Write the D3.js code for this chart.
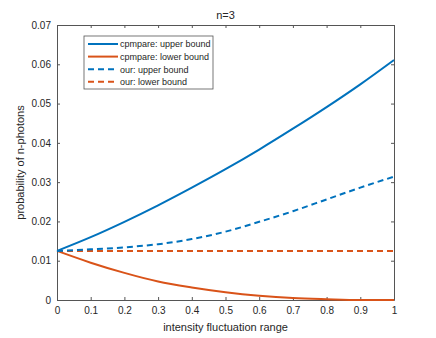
<!DOCTYPE html>
<html>
<head>
<meta charset="utf-8">
<script src="https://cdn.jsdelivr.net/npm/d3@7"></script>
<style>
    body { margin: 0; background: #fff; }
    svg { font-family: "Liberation Sans", Arial, sans-serif; }
    .axis path, .axis line { stroke: #555; }
    .axis text { fill: #262626; font-size: 10px; }
</style>
</head>
<body>
<div class="chart"></div>
<script>
var xs = [0, 0.1, 0.2, 0.3, 0.4, 0.5, 0.6, 0.7, 0.8, 0.9, 1.0]
var cmpUpper = [0.0125, 0.0160, 0.0199, 0.0241, 0.0286, 0.0333, 0.0383, 0.0436, 0.0491, 0.0549, 0.0611]
var cmpLower = [0.0125, 0.0095, 0.0069, 0.0047, 0.0032, 0.0020, 0.0011, 0.0005, 0.0002, 0.0000, 0.0000]
var ourUpper = [0.0125, 0.0129, 0.0134, 0.0142, 0.0155, 0.0174, 0.0199, 0.0226, 0.0256, 0.0286, 0.0314]
var ourLower = [0.0125, 0.0125, 0.0125, 0.0125, 0.0125, 0.0125, 0.0125, 0.0125, 0.0125, 0.0125, 0.0125]
var xTicks = [0, 0.1, 0.2, 0.3, 0.4, 0.5, 0.6, 0.7, 0.8, 0.9, 1]
var yTicks = [0, 0.01, 0.02, 0.03, 0.04, 0.05, 0.06, 0.07]

var series = [
    {name: "cpmpare: upper bound", values: cmpUpper, color: "#0072BD", dash: null},
    {name: "cpmpare: lower bound", values: cmpLower, color: "#D95319", dash: null},
    {name: "our: upper bound", values: ourUpper, color: "#0072BD", dash: "6,4"},
    {name: "our: lower bound", values: ourLower, color: "#D95319", dash: "6,4"}
]

var width = 436, height = 338
var margin = {top: 25, left: 57, right: 42, bottom: 38}
var chartWidth = width - margin.left - margin.right
var chartHeight = height - margin.top - margin.bottom

var svg = d3.select(".chart").append("svg")
    .attr("width", width).attr("height", height)

var x = d3.scaleLinear().domain([0, 1]).range([0, chartWidth])
var y = d3.scaleLinear().domain([0, 0.07]).range([chartHeight, 0])

var g = svg.append("g").attr("transform", "translate(" + [margin.left, margin.top] + ")")

// axes, ticks pointing inward like matlab
g.append("g").attr("class", "axis x")
    .attr("transform", "translate(0," + chartHeight + ")")
    .call(d3.axisBottom(x).tickValues(xTicks).tickSizeInner(-3).tickSizeOuter(0).tickPadding(7).tickFormat(d3.format("")))
g.append("g").attr("class", "axis")
    .call(d3.axisTop(x).tickValues(xTicks).tickSizeInner(-3).tickSizeOuter(0).tickFormat(""))
g.append("g").attr("class", "axis y")
    .call(d3.axisLeft(y).tickValues(yTicks).tickSizeInner(-3).tickSizeOuter(0).tickPadding(6).tickFormat(d3.format("")))
g.append("g").attr("class", "axis")
    .attr("transform", "translate(" + chartWidth + ",0)")
    .call(d3.axisRight(y).tickValues(yTicks).tickSizeInner(-3).tickSizeOuter(0).tickFormat(""))

var line = d3.line()
    .x(function(d, i) { return x(xs[i]) })
    .y(function(d) { return y(d) })
    .curve(d3.curveMonotoneX)

// draw lower ones first so the blue sits on top where they meet
;[3, 1, 2, 0].forEach(function(k) {
    var s = series[k]
    g.append("path")
        .attr("d", line(s.values))
        .attr("fill", "none")
        .attr("stroke", s.color)
        .attr("stroke-width", 2)
        .attr("stroke-dasharray", s.dash)
})

// legend
var legend = g.append("g").attr("transform", "translate(27,11)")
legend.append("rect")
    .attr("width", 129).attr("height", 53)
    .attr("fill", "#fff").attr("stroke", "#555").attr("stroke-width", 0.8)
series.forEach(function(s, i) {
    var ly = 8 + i * 12.6
    legend.append("line")
        .attr("x1", 4).attr("x2", 34).attr("y1", ly).attr("y2", ly)
        .attr("stroke", s.color).attr("stroke-width", 2)
        .attr("stroke-dasharray", s.dash)
    legend.append("text")
        .attr("x", 36).attr("y", ly + 3.3)
        .attr("font-size", 9).attr("fill", "#262626")
        .text(s.name)
})

svg.append("text")
    .attr("x", margin.left + chartWidth / 2).attr("y", 19)
    .attr("text-anchor", "middle").attr("font-size", 11).attr("fill", "#262626")
    .text("n=3")

svg.append("text")
    .attr("x", margin.left + chartWidth / 2).attr("y", 331)
    .attr("text-anchor", "middle").attr("font-size", 11).attr("fill", "#262626")
    .text("intensity fluctuation range")

svg.append("text")
    .attr("transform", "translate(24," + (margin.top + chartHeight / 2) + ") rotate(-90)")
    .attr("text-anchor", "middle").attr("font-size", 11).attr("fill", "#262626")
    .text("probability of n-photons")
</script>
</body>
</html>
